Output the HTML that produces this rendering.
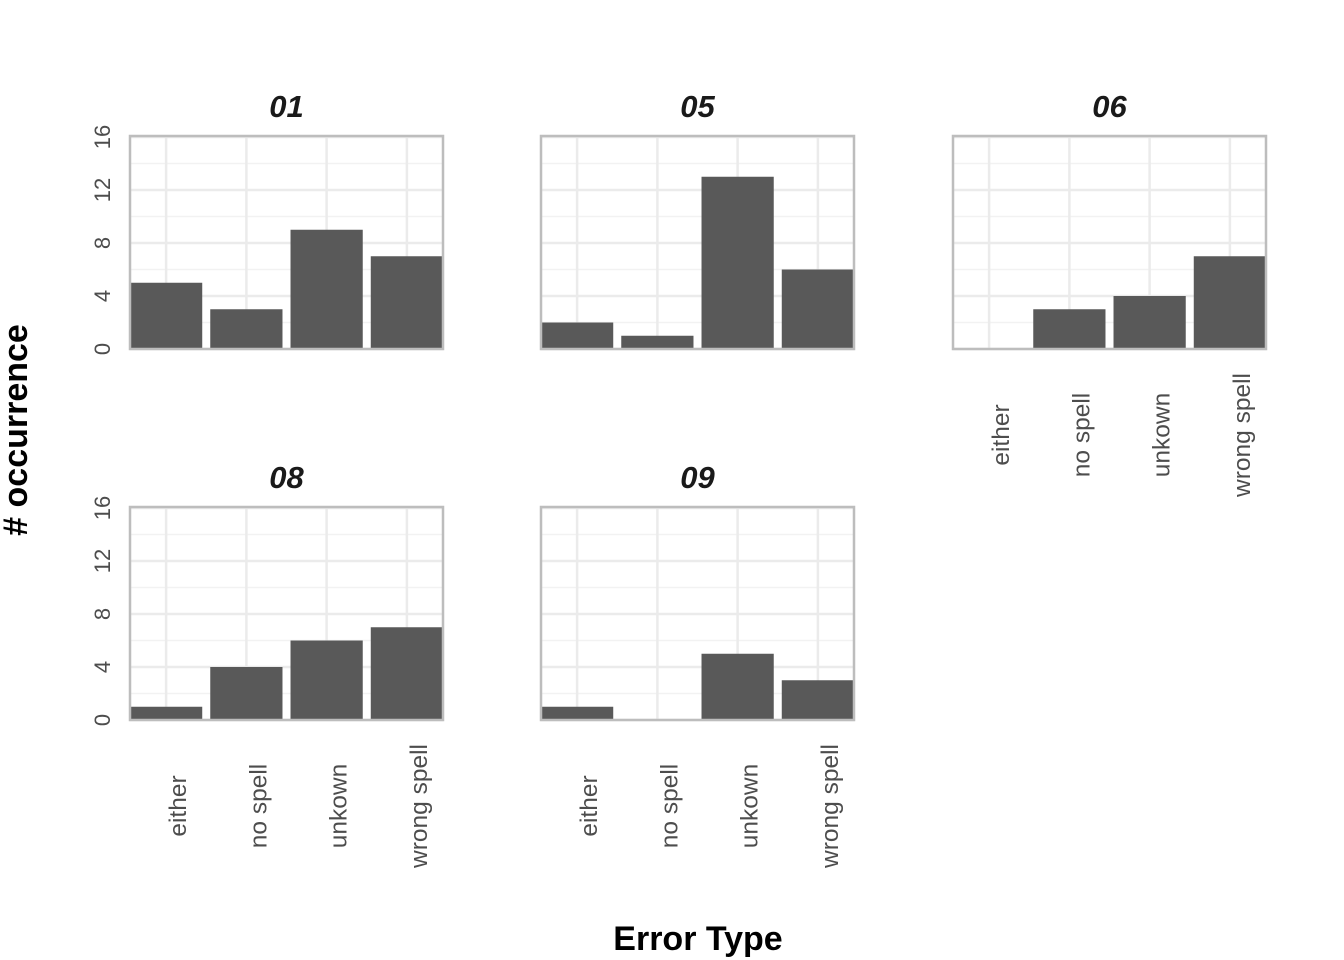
<!DOCTYPE html>
<html><head><meta charset="utf-8"><style>body{margin:0;background:#fff}svg{display:block}</style></head>
<body>
<svg id="chart" width="1344" height="960" xmlns="http://www.w3.org/2000/svg" font-family="Liberation Sans, sans-serif"></svg>
<script>
const categories = ["either","no spell","unkown","wrong spell"];
const panelNames = ["01","05","06","08","09"];
const values01 = [5,3,9,7];
const values05 = [2,1,13,6];
const values06 = [0,3,4,7];
const values08 = [1,4,6,7];
const values09 = [1,0,5,3];
const yTicks = [0,4,8,12,16];
const yMinor = [2,6,10,14];
const series = [values01, values05, values06, values08, values09];

const svg = document.getElementById('chart');
const NS = "http://www.w3.org/2000/svg";
function mk(tag, attrs, parent){const e=document.createElementNS(NS,tag);for(const k in attrs)e.setAttribute(k,attrs[k]);(parent||svg).appendChild(e);return e;}

const panelW = 313, panelH = 213, pxPerUnit = 13.25;
const colX = [130, 541, 953];
const rowBottom = [349, 720];
const layout = [[0,0],[1,0],[2,0],[0,1],[1,1]];
const showX = [false,false,true,true,true];
const showY = [true,false,false,true,false];

series.forEach((vals, i) => {
  const [c, r] = layout[i];
  const x0 = colX[c], yb = rowBottom[r], yt = yb - panelH;
  const g = mk('g', {});
  
  
  const unit = panelW / (categories.length - 0.1);
  const xs = k => x0 + unit * (k + 0.45);
  const ys = v => yb - v * pxPerUnit;
  yMinor.forEach(v => { const l = mk('line',{x1:x0,x2:x0+panelW,y1:ys(v),y2:ys(v),stroke:'#f2f2f2','stroke-width':1.5},g);   });
  yTicks.forEach(v => { const l = mk('line',{x1:x0,x2:x0+panelW,y1:ys(v),y2:ys(v),stroke:'#ebebeb','stroke-width':2.5},g);   });
  categories.forEach((cat,k) => { const l = mk('line',{x1:xs(k),x2:xs(k),y1:yt,y2:yb,stroke:'#ebebeb','stroke-width':2.5},g);   });
  vals.forEach((v,k) => {
    const bw = unit * 0.9;
    const b = mk('rect',{x:xs(k)-bw/2,y:ys(v),width:bw,height:v*pxPerUnit,fill:'#595959'},g);
    
    
  });
  const border = mk('rect',{x:x0,y:yt,width:panelW,height:panelH,fill:'none',stroke:'#bdbdbd','stroke-width':2.5},g);
  
  
  const t = mk('text',{x:x0+panelW/2,y:yt-19,'text-anchor':'middle','font-size':31,'font-weight':'bold','font-style':'italic',fill:'#1a1a1a'},g);
  t.textContent = panelNames[i];
  
  
  if (showY[i]) yTicks.forEach(v => {
    const tx = mk('text',{transform:`translate(${x0-20},${ys(v)}) rotate(-90)`,'text-anchor':'middle','font-size':22,fill:'#4d4d4d'},g);
    tx.textContent = v;
    
    
  });
  if (showX[i]) categories.forEach((cat,k) => {
    const tx = mk('text',{transform:`translate(${xs(k)+20},${yb+86}) rotate(-90)`,'text-anchor':'middle','font-size':24.5,fill:'#4d4d4d'},g);
    tx.textContent = cat;
    
    
  });
});
const xt = mk('text',{x:698,y:950,'text-anchor':'middle','font-size':34,'font-weight':'bold',fill:'#000'});
xt.textContent = 'Error Type';


const yt2 = mk('text',{transform:'translate(27,430) rotate(-90)','text-anchor':'middle','font-size':34,'font-weight':'bold',fill:'#000'});
yt2.textContent = '# occurrence';


</script>
</body></html>
